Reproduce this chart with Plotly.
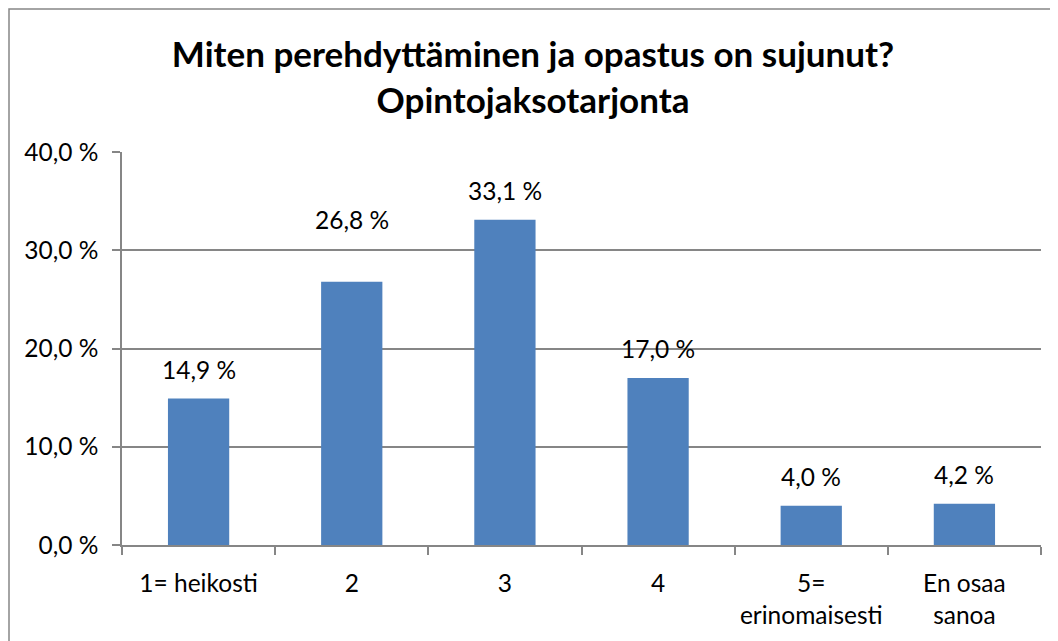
import plotly.graph_objects as go

categories = ["1= heikosti", "2", "3", "4", "5=<br>erinomaisesti", "En osaa<br>sanoa"]
values = [14.9, 26.8, 33.1, 17.0, 4.0, 4.2]
y_ticks = [0, 10, 20, 30, 40]
y_tick_labels = ["0,0 %", "10,0 %", "20,0 %", "30,0 %", "40,0 %"]
bar_labels = [f"{v:.1f}".replace(".", ",") + " %" for v in values]

font_family = "Lato, Open Sans, sans-serif"
OFF = 8  # default body margin of the page
W, H = 1058 - OFF, 641 - OFF
L, R, T, B = 122 - OFF, 17, 152 - OFF, 96
PW, PH = W - L - R, H - T - B
label_lift = {1: 46}  # the second label sits higher in the original

fig = go.Figure()
fig.add_trace(go.Bar(
    x=categories, y=values,
    marker=dict(color="#4F81BD", line=dict(width=0)),
    width=0.4,
))
for i, (v, t) in enumerate(zip(values, bar_labels)):
    fig.add_annotation(x=i, y=v, text=t, showarrow=False, yanchor="bottom",
                       yshift=label_lift.get(i, 13),
                       font=dict(size=24.5, color="#000000", family=font_family))

fig.update_layout(
    width=W, height=H,
    margin=dict(l=L, r=R, t=T, b=B, autoexpand=False),
    paper_bgcolor="white", plot_bgcolor="white",
    showlegend=False,
    title=dict(
        text="<b>Miten perehdyttäminen ja opastus on sujunut?<br>Opintojaksotarjonta</b>",
        x=(533 - OFF) / W, xanchor="center",
        y=1 - (67 - OFF) / H, yanchor="middle",
        font=dict(size=35, color="#000000", family=font_family),
    ),
    font=dict(family=font_family, size=24.5, color="#000000"),
    shapes=[dict(type="rect", xref="paper", yref="paper",
                 x0=-(L - 1) / PW, x1=(PW + R + 20) / PW, y0=-(B + 20) / PH, y1=(PH + T - 1) / PH,
                 line=dict(color="#868686", width=1.5), fillcolor="rgba(0,0,0,0)", layer="below")],
)
fig.update_xaxes(
    showline=True, linecolor="#868686", linewidth=1.5,
    ticks="outside", tickson="boundaries", ticklen=8, tickcolor="#868686", tickwidth=1.5,
    tickfont=dict(size=24.5, family=font_family), showgrid=False,
    ticklabelstandoff=16,
)
fig.update_yaxes(
    range=[0, 40], tickvals=y_ticks, ticktext=y_tick_labels,
    showline=True, linecolor="#868686", linewidth=1.5,
    ticks="outside", ticklen=8, tickcolor="#868686", tickwidth=1.5,
    showgrid=True, gridcolor="#868686", gridwidth=1.5, zeroline=False,
    tickfont=dict(size=24.5, family=font_family),
    ticklabelstandoff=9,
)

fig.write_html("out.html")
